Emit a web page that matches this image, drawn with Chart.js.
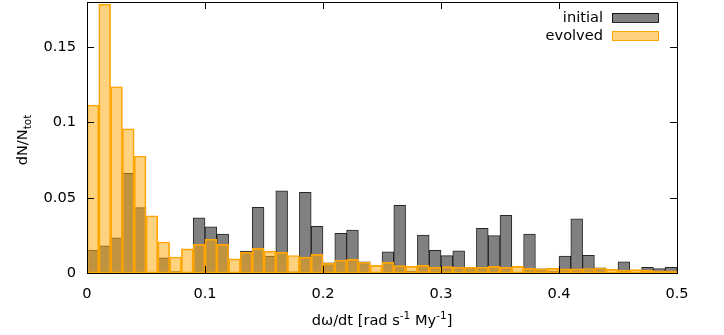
<!DOCTYPE html>
<html>
<head>
<meta charset="utf-8">
<script src="https://cdn.jsdelivr.net/npm/chart.js@4/dist/chart.umd.min.js"></script>
<style>
  html, body { margin: 0; padding: 0; background: #fff; }
  #wrap { width: 724px; height: 335px; }
</style>
</head>
<body>
<div id="wrap"><canvas id="chart" width="724" height="335"></canvas></div>
<script>
// bin centres, width 0.01
const binCenters = [
  0.005, 0.015, 0.025, 0.035, 0.045, 0.055, 0.065, 0.075, 0.085, 0.095,
  0.105, 0.115, 0.125, 0.135, 0.145, 0.155, 0.165, 0.175, 0.185, 0.195,
  0.205, 0.215, 0.225, 0.235, 0.245, 0.255, 0.265, 0.275, 0.285, 0.295,
  0.305, 0.315, 0.325, 0.335, 0.345, 0.355, 0.365, 0.375, 0.385, 0.395,
  0.405, 0.415, 0.425, 0.435, 0.445, 0.455, 0.465, 0.475, 0.485, 0.495
];

const initialValues = [
  0.0153, 0.0181, 0.0234, 0.0662, 0.0434, 0.0000, 0.0100, 0.0010, 0.0000, 0.0367,
  0.0306, 0.0258, 0.0000, 0.0146, 0.0436, 0.0113, 0.0545, 0.0008, 0.0536, 0.0310,
  0.0068, 0.0263, 0.0285, 0.0075, 0.0000, 0.0141, 0.0450, 0.0013, 0.0252, 0.0151,
  0.0115, 0.0148, 0.0035, 0.0297, 0.0248, 0.0383, 0.0005, 0.0259, 0.0028, 0.0013,
  0.0113, 0.0360, 0.0117, 0.0035, 0.0005, 0.0075, 0.0000, 0.0038, 0.0029, 0.0038
];

const evolvedValues = [
  0.1116, 0.1786, 0.1237, 0.0958, 0.0777, 0.0380, 0.0206, 0.0106, 0.0160, 0.0190,
  0.0224, 0.0190, 0.0094, 0.0138, 0.0164, 0.0145, 0.0137, 0.0116, 0.0105, 0.0124,
  0.0064, 0.0086, 0.0091, 0.0072, 0.0051, 0.0071, 0.0049, 0.0044, 0.0051, 0.0038,
  0.0042, 0.0038, 0.0037, 0.0038, 0.0044, 0.0038, 0.0044, 0.0031, 0.0027, 0.0031,
  0.0027, 0.0027, 0.0030, 0.0033, 0.0024, 0.0020, 0.0022, 0.0017, 0.0015, 0.0015
];

const xTicks = [0, 0.1, 0.2, 0.3, 0.4, 0.5];
const yTicks = [0, 0.05, 0.1, 0.15];

const FONT = 'DejaVu Sans';
const FSIZE = 14.6;

const toPoints = vals => vals.map((v, i) => ({ x: binCenters[i], y: v }));

// gnuplot-like frame with inward ticks on all four sides
const framePlugin = {
  id: 'frame',
  afterDatasetsDraw(chart) {
    const { ctx, chartArea: a, scales } = chart;
    const len = 7;
    ctx.save();
    ctx.strokeStyle = '#000';
    ctx.lineWidth = 1;
    ctx.beginPath();
    xTicks.forEach(v => {
      const x = Math.round(scales.x.getPixelForValue(v)) + 0.5;
      ctx.moveTo(x, a.bottom); ctx.lineTo(x, a.bottom - len);
      ctx.moveTo(x, a.top); ctx.lineTo(x, a.top + len);
    });
    yTicks.forEach(v => {
      const y = Math.round(scales.y.getPixelForValue(v)) + 0.5;
      ctx.moveTo(a.left, y); ctx.lineTo(a.left + len, y);
      ctx.moveTo(a.right, y); ctx.lineTo(a.right - len, y);
    });
    ctx.stroke();
    ctx.strokeRect(Math.round(a.left) + 0.5, Math.round(a.top) + 0.5,
      Math.round(a.right - a.left), Math.round(a.bottom - a.top));
    ctx.restore();
  }
};

// legend: text right-aligned, sample box on its right
const keyPlugin = {
  id: 'key',
  afterDraw(chart) {
    const { ctx, chartArea: a } = chart;
    const sets = [chart.data.datasets[1], chart.data.datasets[0]];
    ctx.save();
    ctx.font = FSIZE + 'px "' + FONT + '"';
    ctx.textAlign = 'right';
    ctx.textBaseline = 'middle';
    sets.forEach((ds, i) => {
      const cy = a.top + 16 + i * 18;
      ctx.fillStyle = '#000';
      ctx.fillText(ds.label, a.right - 74, cy);
      const bx = a.right - 65, bw = 46, bh = 9;
      ctx.fillStyle = ds.backgroundColor;
      ctx.fillRect(bx, cy - 5, bw, bh);
      ctx.strokeStyle = ds.borderColor;
      ctx.lineWidth = 1;
      ctx.strokeRect(bx + 0.5, cy - 4.5, bw, bh);
    });
    ctx.restore();
  }
};

// axis titles with sub/superscripts
const titlesPlugin = {
  id: 'titles',
  afterDraw(chart) {
    const { ctx, chartArea: a } = chart;
    const big = FSIZE + 'px "' + FONT + '"';
    const small = '10.5px "' + FONT + '"';
    const drawRuns = (runs, cx, cy) => {
      let w = 0;
      runs.forEach(r => { ctx.font = r.sub || r.sup ? small : big; w += ctx.measureText(r.t).width; });
      let x = cx - w / 2;
      runs.forEach(r => {
        ctx.font = r.sub || r.sup ? small : big;
        const dy = r.sub ? 4 : r.sup ? -6 : 0;
        ctx.fillText(r.t, x, cy + dy);
        x += ctx.measureText(r.t).width;
      });
    };
    ctx.save();
    ctx.fillStyle = '#000';
    ctx.textAlign = 'left';
    ctx.textBaseline = 'alphabetic';
    drawRuns([
      { t: 'dω/dt [rad s' }, { t: '-1', sup: true }, { t: ' My' }, { t: '-1', sup: true }, { t: ']' }
    ], (a.left + a.right) / 2, 325);
    ctx.translate(27, 140);
    ctx.rotate(-Math.PI / 2);
    drawRuns([{ t: 'dN/N' }, { t: 'tot', sub: true }], 0, 0);
    ctx.restore();
  }
};

new Chart(document.getElementById('chart'), {
  type: 'bar',
  data: {
    datasets: [
      {
        label: 'evolved',
        data: toPoints(evolvedValues),
        backgroundColor: 'rgba(255,165,0,0.5)',
        borderColor: '#ffa500',
        borderWidth: 1,
        borderSkipped: false,
        order: 0
      },
      {
        label: 'initial',
        data: toPoints(initialValues),
        backgroundColor: '#808080',
        borderColor: 'rgba(0,0,0,0.85)',
        borderWidth: 1,
        borderSkipped: false,
        order: 1
      }
    ]
  },
  options: {
    responsive: false,
    animation: false,
    grouped: false,
    barPercentage: 1,
    categoryPercentage: 1,
    layout: { padding: { left: 0, right: 47, top: 2, bottom: 0 } },
    plugins: {
      legend: { display: false },
      tooltip: { enabled: false }
    },
    scales: {
      x: {
        type: 'linear',
        min: 0,
        max: 0.5,
        offset: false,
        grid: { display: false, drawTicks: false },
        border: { display: false },
        afterBuildTicks: s => { s.ticks = xTicks.map(v => ({ value: v })); },
        afterFit: s => { s.height = 62; s.paddingLeft = 0; s.paddingRight = 0; },
        ticks: {
          color: '#000',
          padding: 12,
          maxRotation: 0,
          callback: v => String(v),
          font: { family: FONT, size: FSIZE }
        }
      },
      y: {
        min: 0,
        max: 0.18,
        grid: { display: false, drawTicks: false },
        border: { display: false },
        afterBuildTicks: s => { s.ticks = yTicks.map(v => ({ value: v })); },
        afterFit: s => { s.width = 87; s.paddingTop = 0; s.paddingBottom = 0; },
        ticks: {
          color: '#000',
          padding: 11,
          callback: v => String(v),
          font: { family: FONT, size: FSIZE }
        }
      }
    }
  },
  plugins: [framePlugin, keyPlugin, titlesPlugin]
});
</script>
</body>
</html>
